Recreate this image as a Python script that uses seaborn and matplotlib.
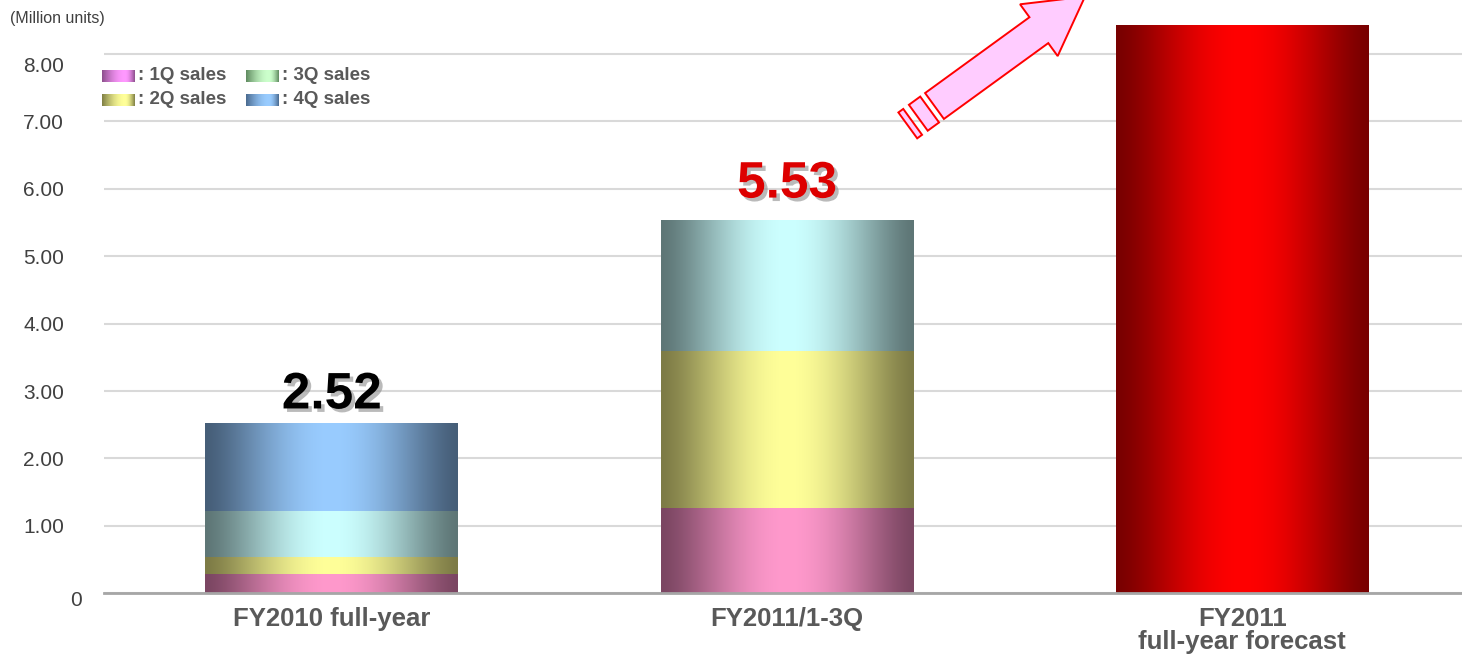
import numpy as np
import pandas as pd
import matplotlib
matplotlib.use("Agg")
import matplotlib.pyplot as plt
import seaborn as sns
from matplotlib.colors import to_rgb
from matplotlib.patches import Polygon
from matplotlib.transforms import Affine2D, ScaledTranslation
import matplotlib.patheffects as pe

# ---- data (million units) ----
categories = ["FY2010 full-year", "FY2011/1-3Q", "FY2011\nfull-year forecast"]
q1_sales = [0.27, 1.25, 0.0]
q2_sales = [0.25, 2.33, 0.0]
q3_sales = [0.69, 1.95, 0.0]
q4_sales = [1.31, 0.0, 0.0]
forecast = [0.0, 0.0, 8.42]
legend_labels = [": 1Q sales", ": 2Q sales", ": 3Q sales", ": 4Q sales"]
y_ticks = [0, 1, 2, 3, 4, 5, 6, 7, 8]
y_tick_labels = ["0", "1.00", "2.00", "3.00", "4.00", "5.00", "6.00", "7.00", "8.00"]
unit_label = "(Million units)"
total_colors = ["#000000", "#dd0000"]

W, H = 1462, 657
DPI = 100
sns.set_theme(style="white")
plt.rcParams["font.family"] = ["Liberation Sans", "DejaVu Sans"]

fig = plt.figure(figsize=(W / DPI, H / DPI), dpi=DPI)
px_left, px_right, px_base = 104, 1470, 593.3
unit_px = 67.4
y_top = 8.8
ax = fig.add_axes([px_left / W, (H - px_base) / H,
                   (px_right - px_left) / W, y_top * unit_px / H])

BAR_W = 0.555

# bar segment colours: (edge, centre) of a horizontal shading
seg_shades = [("#7b4662", "#ff99cc"),   # 1Q
              ("#7d7b46", "#ffff99"),   # 2Q
              ("#5e7676", "#ccffff"),   # 3Q
              ("#465e78", "#99ccff")]   # 4Q
forecast_shade = ("#780000", "#ff0000")
legend_shades = [("#8c4f8c", "#ff99ff"),
                 ("#7f7f45", "#ffff99"),
                 ("#5f8a5f", "#ccffcc"),
                 ("#4a6a8f", "#99ccff")]


def shade(edge, centre, n=256, power=1.4, peak=0.5):
    x = np.linspace(0, 1, n)
    t = np.where(x <= peak, x / peak, (1 - x) / (1 - peak))
    t = np.sin(t * np.pi / 2) ** power
    e, c = np.array(to_rgb(edge)), np.array(to_rgb(centre))
    return (e[None, :] * (1 - t[:, None]) + c[None, :] * t[:, None])[None, :, :]


# stacked totals, drawn from the tallest layer down so lower segments sit on top
layers = [q1_sales, q2_sales, q3_sales, q4_sales]
cums = np.cumsum(np.array(layers), axis=0)
df = pd.DataFrame({"category": categories})

bar_groups = []  # (patches, shade, zorder)
for k in range(3, -1, -1):
    n0 = len(ax.patches)
    df["value"] = cums[k]
    sns.barplot(data=df, x="category", y="value", order=categories,
                color=seg_shades[k][1], width=BAR_W, ax=ax, errorbar=None)
    bar_groups.append((ax.patches[n0:], seg_shades[k], 3 + (3 - k)))

n0 = len(ax.patches)
df["value"] = forecast
sns.barplot(data=df, x="category", y="value", order=categories,
            color=forecast_shade[1], width=BAR_W, ax=ax, errorbar=None)
bar_groups.append((ax.patches[n0:], forecast_shade, 8))

# replace flat fills with a cylinder-like horizontal shading
for patches, (edge, centre), z in bar_groups:
    img = shade(edge, centre)
    for p in patches:
        h = p.get_height()
        if h <= 0:
            p.set_visible(False)
            continue
        x0, y0, w = p.get_x(), p.get_y(), p.get_width()
        ax.imshow(img, extent=[x0, x0 + w, y0, y0 + h], aspect="auto",
                  interpolation="bilinear", zorder=z)
        p.set_visible(False)

# totals above the stacked bars
totals = np.sum(np.array(layers), axis=0)
label_gap_px = [4, 12]
for i in range(2):
    ax.annotate(f"{totals[i]:.2f}", xy=(i, totals[i]),
                xytext=(0, label_gap_px[i] * 72 / DPI), textcoords="offset points",
                ha="center", va="bottom", fontsize=37, fontweight="bold",
                color=total_colors[i], zorder=10,
                path_effects=[pe.withSimplePatchShadow(offset=(2.5, -2.5),
                                                       shadow_rgbFace="#8c8c8c",
                                                       alpha=0.6)])

# axes styling
ax.set_xlim(-0.5, 2.5)
ax.set_ylim(0, y_top)
ax.set_yticks(y_ticks)
ax.set_yticklabels(y_tick_labels)
ax.set_xlabel("")
ax.set_ylabel("")
ax.yaxis.grid(True, color="#d9d9d9", linewidth=1.5)
ax.xaxis.grid(False)
ax.set_axisbelow(True)
for s in ["top", "right", "left"]:
    ax.spines[s].set_visible(False)
ax.spines["bottom"].set_color("#a6a6a6")
ax.spines["bottom"].set_linewidth(2)
ax.spines["bottom"].set_zorder(12)
ax.tick_params(axis="y", length=0, pad=40 * 72 / DPI, labelsize=15, labelcolor="#404040")
ax.tick_params(axis="x", length=0, pad=14 * 72 / DPI)
for lab in ax.get_xticklabels():
    lab.set_fontsize(18.5)
    lab.set_fontweight("bold")
    lab.set_color("#595959")
    lab.set_linespacing(0.95)

# nudge the "0" and "8.00" tick labels
yt = ax.yaxis.get_major_ticks()
yt[0].label1.set_transform(yt[0].label1.get_transform()
                           + ScaledTranslation(18 / DPI, -5 / DPI, fig.dpi_scale_trans))
yt[-1].label1.set_transform(yt[-1].label1.get_transform()
                            + ScaledTranslation(0, -10 / DPI, fig.dpi_scale_trans))

# unit caption
fig.text(10 / W, 1 - 18 / H, unit_label, fontsize=11.5, color="#404040",
         ha="left", va="center")

# legend with shaded swatches
sw_cols = [102, 246]
sw_rows = [76, 100]
for k, lab in enumerate(legend_labels):
    col, row = k // 2, k % 2
    sx, sy = sw_cols[col], sw_rows[row]
    sax = fig.add_axes([sx / W, 1 - (sy + 6.5) / H, 33 / W, 13 / H])
    sax.imshow(shade(*legend_shades[k], peak=0.7, power=1.0), aspect="auto",
               interpolation="bilinear")
    sax.axis("off")
    fig.text((sx + 36) / W, 1 - sy / H, lab, fontsize=13.5, fontweight="bold",
             color="#595959", ha="left", va="center")

# rising arrow toward the forecast value
px_to_fig = Affine2D().scale(1 / W, -1 / H).translate(0, 1) + fig.transFigure
ang = np.deg2rad(-36)
u = np.array([np.cos(ang), np.sin(ang)])
nrm = np.array([-np.sin(ang), np.cos(ang)])
origin = np.array([934.5, 106.0])


def local(s, d):
    return origin + s * u + d * nrm


arrow_pts = [local(0, -16), local(129, -16), local(129, -32), local(186, 0),
             local(129, 32), local(129, 16), local(0, 16)]
rect1 = [local(-20, -16), local(-6, -16), local(-6, 16), local(-20, 16)]
rect2 = [local(-33, -16), local(-27, -16), local(-27, 16), local(-33, 16)]
for pts in (arrow_pts, rect1, rect2):
    fig.add_artist(Polygon(np.array(pts), closed=True, facecolor="#ffccff",
                           edgecolor="#ff0000", linewidth=1.4,
                           transform=px_to_fig, clip_on=False, zorder=20))

fig.savefig("out.png", dpi=DPI)
